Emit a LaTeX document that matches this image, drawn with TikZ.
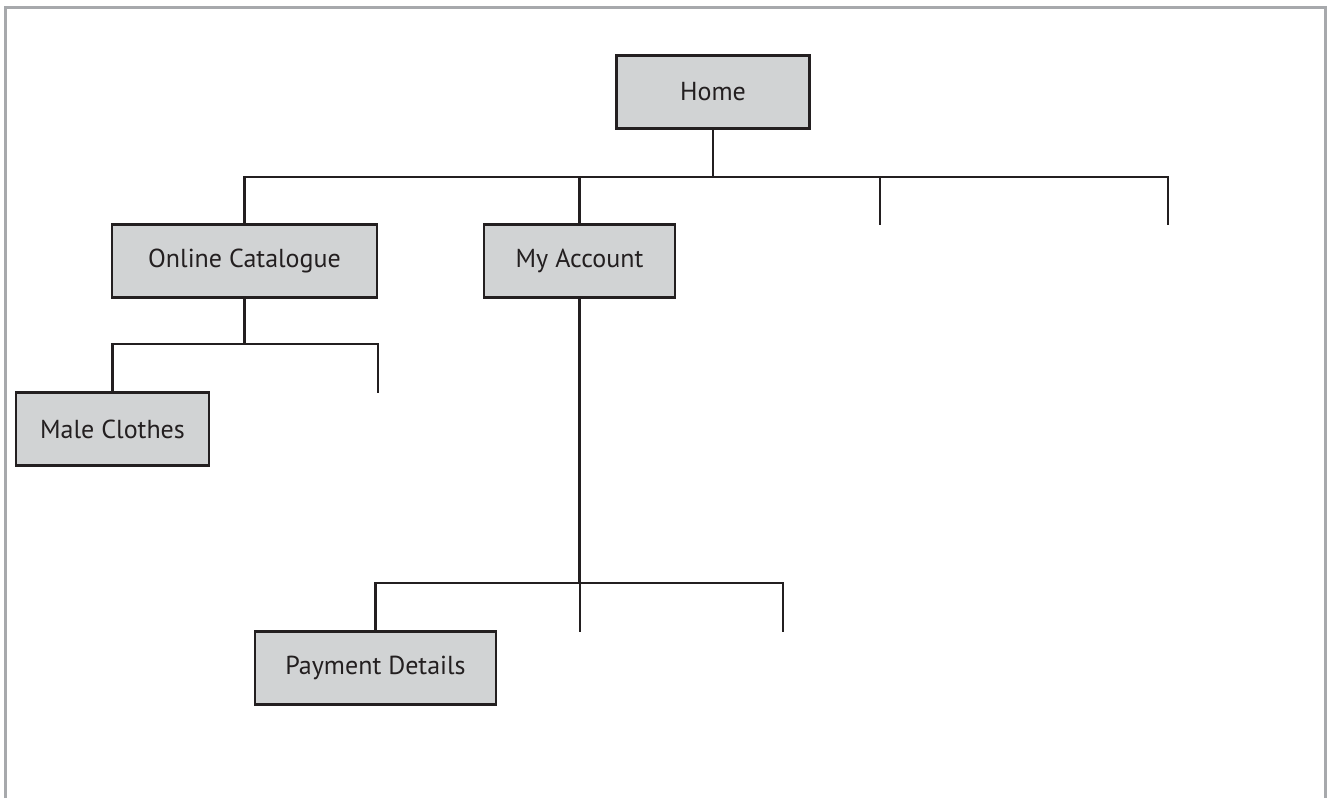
\documentclass[tikz,border=0pt]{standalone}
\usepackage{fontspec}
\setmainfont{PT Sans}
\usetikzlibrary{calc}
\definecolor{boxgray}{RGB}{209,211,212}
\definecolor{framegray}{RGB}{167,169,172}
\definecolor{inkblack}{RGB}{35,31,32}
\tikzstyle{page}=[rectangle,draw=inkblack,fill=boxgray,line width=2.8pt,minimum height=73pt,inner sep=0pt,text=inkblack,font=\fontsize{26}{30}\selectfont]
\tikzstyle{link} = [draw=inkblack,line width=2.8pt]
\tikzstyle{frame} = [draw=framegray,line width=3pt]

\begin{document}
\begin{tikzpicture}[x=1pt,y=-1pt]
    \useasboundingbox (0,0) rectangle (1327,798);
    % outer frame, open at the bottom
    \path[frame] (5,798) -- (5,7) -- (1325,7) -- (1325,798);

    % the pages
    \node[page,minimum width=193pt] (home) at (713,92) {Home};
    \foreach \pos/\name/\boxw/\txt in {{(244.5,261)/catalogue/265/Online Catalogue},
                                       {(579.5,261)/account/191/My Account},
                                       {(112.5,429)/male/193/Male Clothes},
                                       {(375.5,668)/payment/241/Payment Details}}
        \node[page,minimum width=\boxw pt] (\name) at \pos {\txt};

    % bus lines and free ends of the empty branches
    \foreach \pos/\name in {{(880,225)/homeC},{(1168,225)/homeD},
                            {(378,393)/catB},
                            {(580,632)/accB},{(783,632)/accC},
                            {(713,177)/homebus},{(244.5,344)/catbus},{(579.5,583)/accbus}}
        \node[coordinate] (\name) at \pos {};

    % Home level
    \path[link] (home.south) -- (homebus);
    \path[link] (catalogue.north) -- (catalogue.north |- homebus) -- (homeD |- homebus) -- (homeD);
    \foreach \dest in {account.north,homeC}
        \path[link] (\dest |- homebus) -- (\dest);

    % Online Catalogue level
    \path[link] (catalogue.south) -- (catbus);
    \path[link] (male.north) -- (male.north |- catbus) -- (catB |- catbus) -- (catB);

    % My Account level
    \path[link] (account.south) -- (accbus);
    \path[link] (payment.north) -- (payment.north |- accbus) -- (accC |- accbus) -- (accC);
    \path[link] (accB |- accbus) -- (accB);
\end{tikzpicture}
\end{document}
